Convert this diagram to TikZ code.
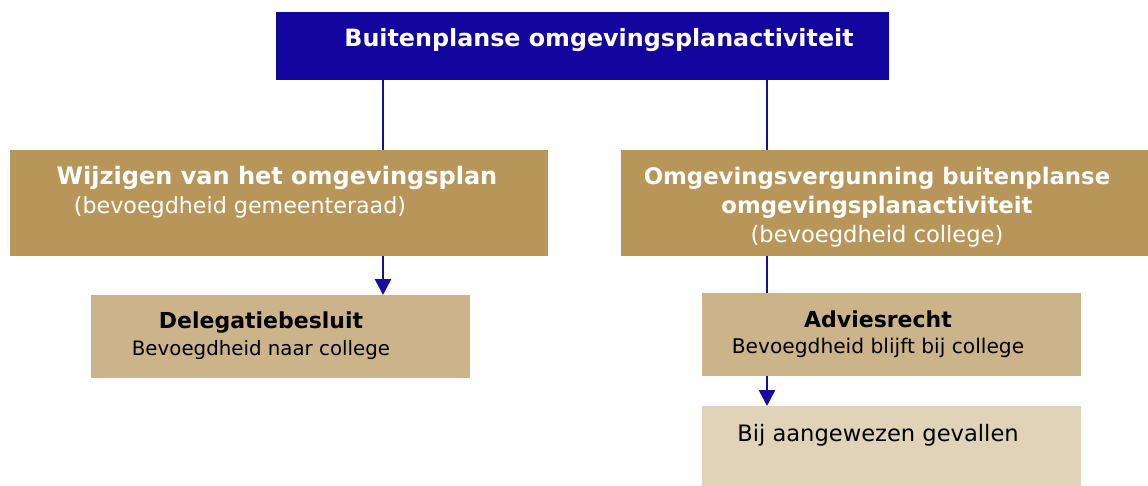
\documentclass[tikz,border=0pt]{standalone}
\usepackage{fontspec}
\setmainfont{DejaVu Sans}
\usetikzlibrary{arrows.meta}
\definecolor{topblue}{HTML}{12069E}
\definecolor{linkblue}{HTML}{1A0AA0}
\definecolor{tanA}{HTML}{B8965A}
\definecolor{tanB}{HTML}{CBB38A}
\definecolor{tanC}{HTML}{E0D3B8}
\tikzset{
  box/.style={draw=none, inner sep=0pt, anchor=north west},
  txt/.style={anchor=base, inner sep=0pt},
  link/.style={draw=linkblue, line width=2.6pt},
  arr/.style={link, -{Triangle[width=16pt,length=16pt]}},
}
\newcommand{\fsz}[1]{\fontsize{#1}{#1}\selectfont}
\begin{document}
\begin{tikzpicture}[x=1pt,y=-1pt]
\useasboundingbox (0,0) rectangle (1148,485);
% boxes
\node[box, fill=topblue, minimum width=613pt, minimum height=68pt] (top) at (276,12) {};
\node[box, fill=tanA, minimum width=538pt, minimum height=106pt] (lbox) at (10,150) {};
\node[box, fill=tanA, minimum width=527pt, minimum height=106pt] (rbox) at (621,150) {};
\node[box, fill=tanB, minimum width=379pt, minimum height=83pt] (del) at (91,295) {};
\node[box, fill=tanB, minimum width=379pt, minimum height=83pt] (adv) at (702,293) {};
\node[box, fill=tanC, minimum width=379pt, minimum height=80pt] (bij) at (702,406) {};
% texts
\node[txt, text=white] (ttop) at (599,46) {\fsz{23.8}\bfseries Buitenplanse omgevingsplanactiviteit};
\node[txt, text=white] (tl1) at (277,184) {\fsz{24}\bfseries Wijzigen van het omgevingsplan};
\node[txt, text=white] (tl2) at (240,213) {\fsz{22.2}(bevoegdheid gemeenteraad)};
\node[txt, text=white] (tr1) at (877,184) {\fsz{22.8}\bfseries Omgevingsvergunning buitenplanse};
\node[txt, text=white] (tr2) at (877,213) {\fsz{22.8}\bfseries omgevingsplanactiviteit};
\node[txt, text=white] (tr3) at (877,242) {\fsz{22.6}(bevoegdheid college)};
\node[txt, text=black] (td1) at (261,328) {\fsz{22}\bfseries Delegatiebesluit};
\node[txt, text=black] (td2) at (261,355) {\fsz{19.8}Bevoegdheid naar college};
\node[txt, text=black] (ta1) at (878,327) {\fsz{22}\bfseries Adviesrecht};
\node[txt, text=black] (ta2) at (878,353) {\fsz{20.2}Bevoegdheid blijft bij college};
\node[txt, text=black] (tb) at (878,441) {\fsz{22.6}Bij aangewezen gevallen};
% connectors
\coordinate (xl) at (383,0);
\coordinate (xr) at (767,0);
\draw[link] (top.south -| xl) -- (lbox.north -| xl);
\draw[link] (top.south -| xr) -- (rbox.north -| xr);
\draw[arr] (lbox.south -| xl) -- (del.north -| xl);
\draw[link] (rbox.south -| xr) -- (adv.north -| xr);
\draw[arr] (adv.south -| xr) -- (bij.north -| xr);
\end{tikzpicture}
\end{document}
